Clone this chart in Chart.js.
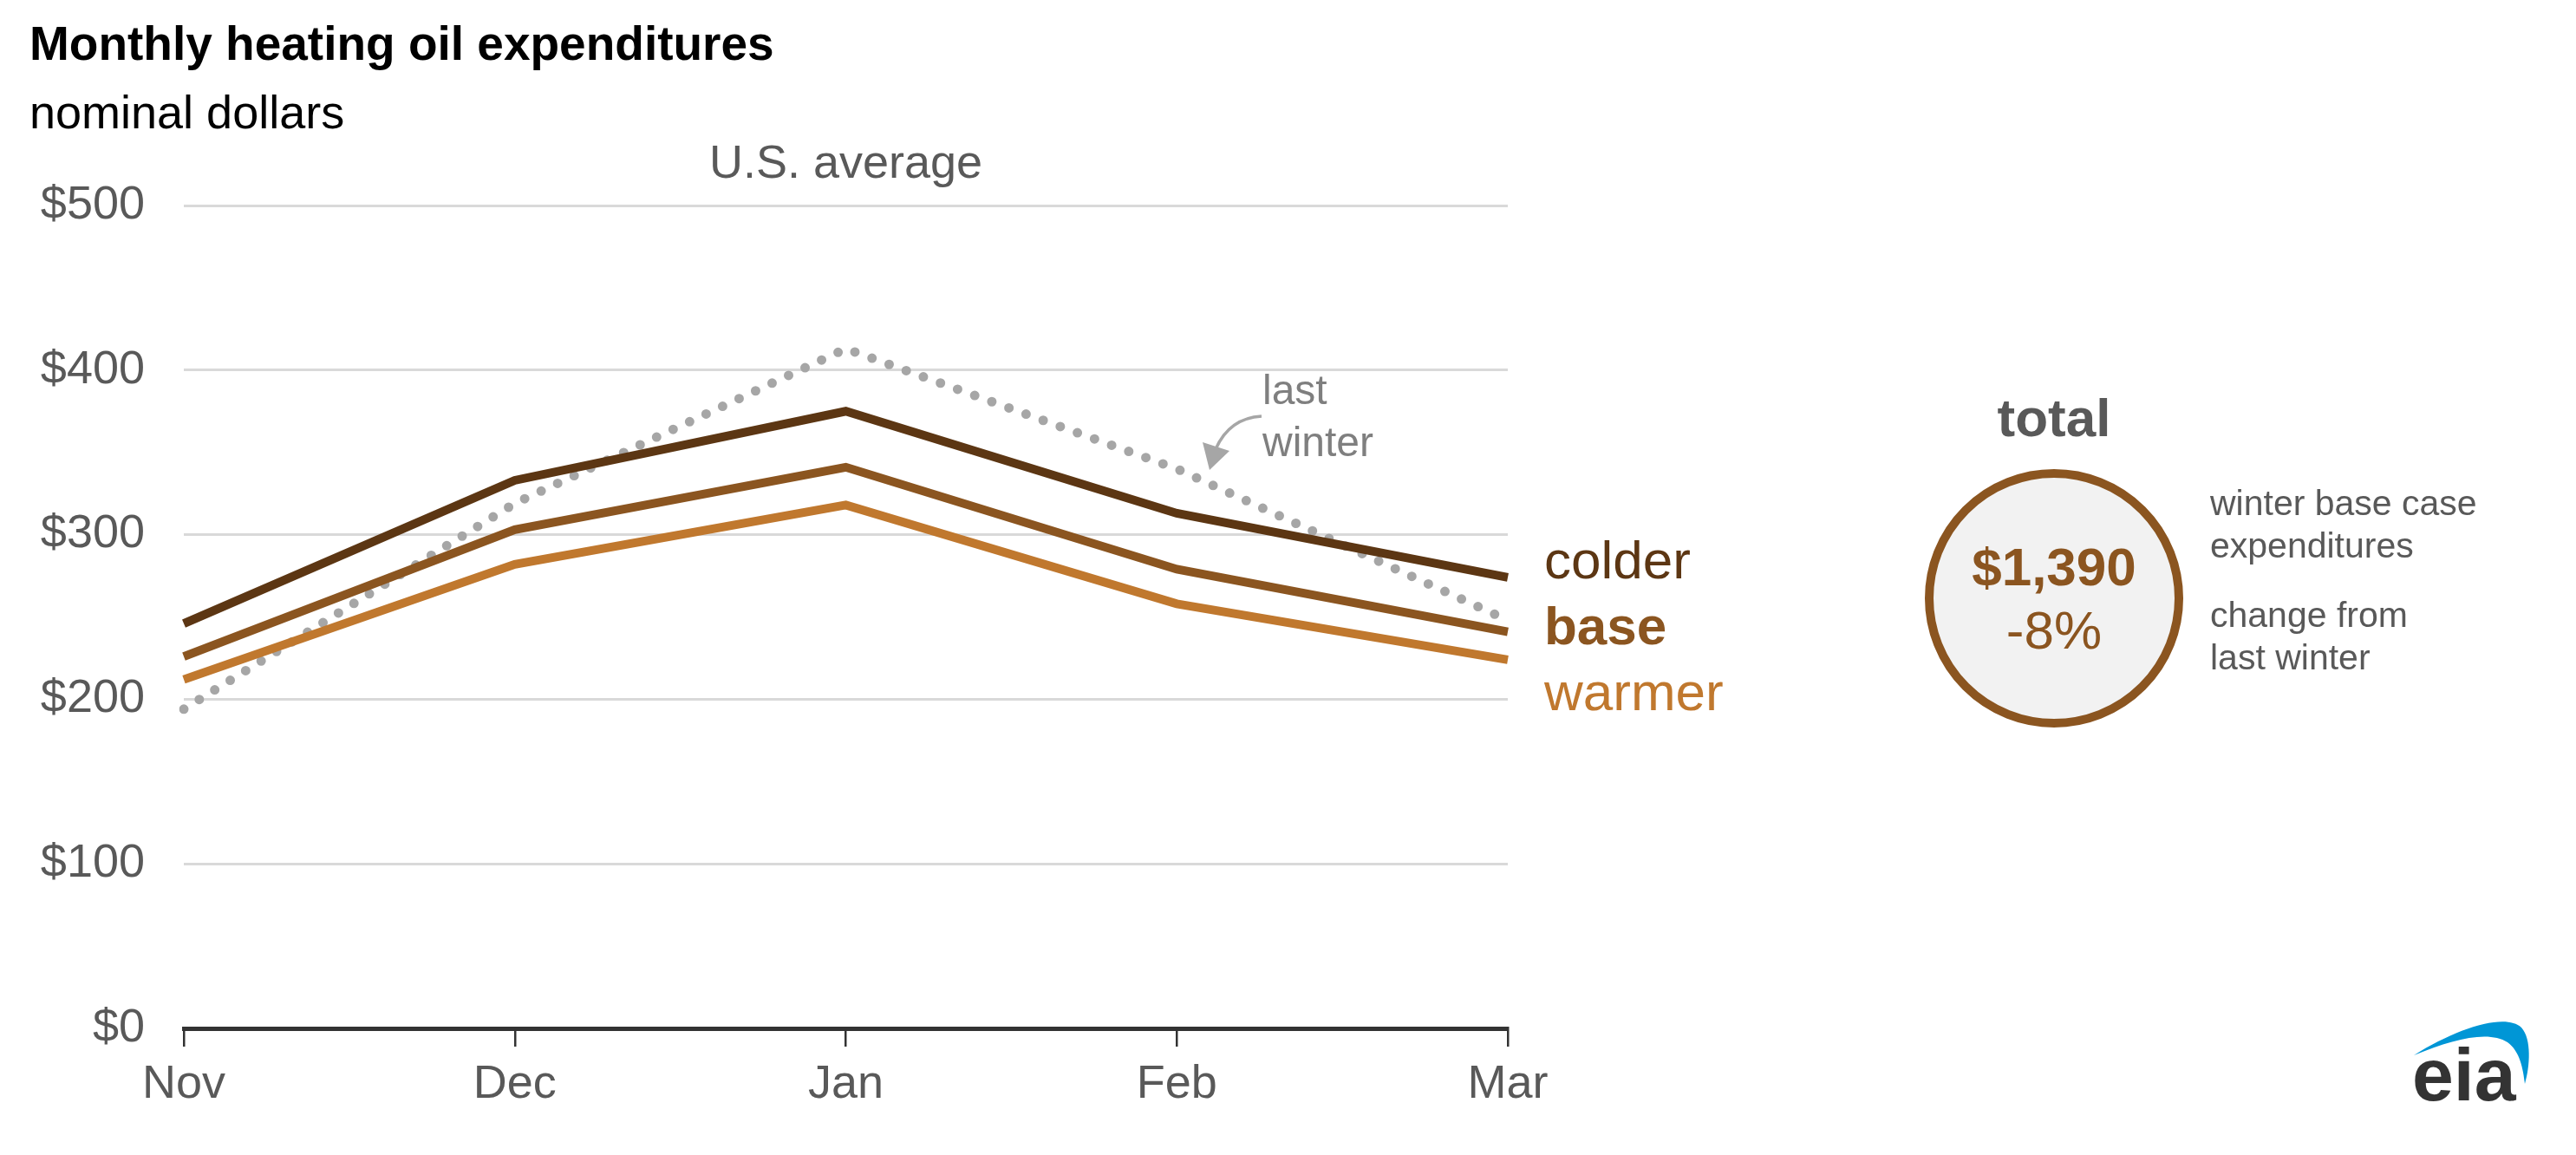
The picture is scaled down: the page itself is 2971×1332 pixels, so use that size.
<!DOCTYPE html>
<html>
<head>
<meta charset="utf-8">
<script src="https://cdn.jsdelivr.net/npm/chart.js@4.4.0/dist/chart.umd.min.js"></script>
<style>
  body { margin:0; background:#fff; width:2971px; height:1332px; overflow:hidden; position:relative; font-family:"Liberation Sans", Arial, sans-serif; }
  #chart { position:absolute; left:0; top:0; }
  .t { position:absolute; white-space:nowrap; line-height:1; }
  #circle { position:absolute; left:2220px; top:541px; width:298px; height:298px; box-sizing:border-box; border:10px solid #8b5520; border-radius:50%; background:#f2f2f2; }
</style>
</head>
<body>
<canvas id="chart" width="2971" height="1332"></canvas>

<div class="t" style="left:34px; top:23px; font-size:55px; font-weight:bold; color:#000;">Monthly heating oil expenditures</div>
<div class="t" style="left:34px; top:102px; font-size:54px; color:#000;">nominal dollars</div>

<div class="t" style="left:2169px; width:400px; text-align:center; top:451px; font-size:62px; font-weight:bold; color:#595959;">total</div>
<div id="circle"></div>
<div class="t" style="left:2169px; width:400px; text-align:center; top:623px; font-size:62px; font-weight:bold; color:#8b5520;">$1,390</div>
<div class="t" style="left:2169px; width:400px; text-align:center; top:696px; font-size:62px; color:#8b5520;">-8%</div>
<div class="t" style="left:2549px; top:560px; font-size:41px; color:#595959;">winter base case</div>
<div class="t" style="left:2549px; top:609px; font-size:41px; color:#595959;">expenditures</div>
<div class="t" style="left:2549px; top:689px; font-size:41px; color:#595959;">change from</div>
<div class="t" style="left:2549px; top:738px; font-size:41px; color:#595959;">last winter</div>

<svg style="position:absolute; left:2740px; top:1140px;" width="231" height="192">
  <path d="M44,77 C95,45 150,28 168,45 C180,58 178,90 172,110 C170,92 166,72 152,62 C130,48 90,58 44,77 Z" fill="#0096d6"/>
</svg>
<div class="t" style="left:2782px; top:1196px; font-size:86px; font-weight:bold; color:#333;">eia</div>

<script>
const months = ['Nov', 'Dec', 'Jan', 'Feb', 'Mar'];
const colder = [246, 333, 375, 313, 274];
const base = [226, 303, 341, 279, 241];
const warmer = [212, 282, 318, 258, 224];
const lastWinter = [194, 319, 413, 340, 248];
const seriesNames = ['colder', 'base', 'warmer'];
const seriesColors = ['#5c3613', '#8b5520', '#c0782e'];

const FONT = '"Liberation Sans", Arial, sans-serif';

const annotations = {
  id: 'annotations',
  afterDraw(chart) {
    const ctx = chart.ctx;
    const area = chart.chartArea;
    ctx.save();
    ctx.textBaseline = 'alphabetic';

    ctx.font = '54px ' + FONT;
    ctx.fillStyle = '#595959';
    ctx.textAlign = 'center';
    ctx.fillText('U.S. average', (area.left + area.right) / 2, 205);

    // series labels at right end
    ctx.textAlign = 'left';
    const baselines = [667, 743, 819];
    seriesNames.forEach((name, i) => {
      ctx.font = (name === 'base' ? 'bold ' : '') + '62px ' + FONT;
      ctx.fillStyle = seriesColors[i];
      ctx.fillText(name, area.right + 42, baselines[i]);
    });

    // last winter note
    ctx.font = '48px ' + FONT;
    ctx.fillStyle = '#7f7f7f';
    ctx.fillText('last', 1456, 466);
    ctx.fillText('winter', 1456, 526);

    // curved arrow
    ctx.strokeStyle = '#a6a6a6';
    ctx.fillStyle = '#a6a6a6';
    ctx.lineWidth = 3.5;
    ctx.beginPath();
    ctx.moveTo(1455, 480);
    ctx.quadraticCurveTo(1418, 482, 1402, 518);
    ctx.stroke();
    ctx.beginPath();
    ctx.moveTo(1387, 510);
    ctx.lineTo(1418, 520);
    ctx.lineTo(1395, 542);
    ctx.closePath();
    ctx.fill();
    ctx.restore();
  }
};

new Chart(document.getElementById('chart'), {
  type: 'line',
  data: {
    labels: months,
    datasets: [
      { label: 'colder', data: colder, borderColor: seriesColors[0], borderWidth: 10 },
      { label: 'base', data: base, borderColor: seriesColors[1], borderWidth: 10 },
      { label: 'warmer', data: warmer, borderColor: seriesColors[2], borderWidth: 10 },
      { label: 'last winter', data: lastWinter, borderColor: '#a6a6a6', borderWidth: 11,
        borderDash: [0, 21], borderCapStyle: 'round' }
    ]
  },
  options: {
    responsive: false,
    animation: false,
    devicePixelRatio: 1,
    elements: {
      line: { tension: 0 },
      point: { radius: 0 }
    },
    layout: { padding: { left: 0, top: 237, right: 1232, bottom: 0 } },
    plugins: { legend: { display: false }, tooltip: { enabled: false } },
    scales: {
      x: {
        offset: false,
        grid: { drawOnChartArea: false, drawTicks: true, tickLength: 21, color: '#333', lineWidth: 2.5 },
        border: { display: true, color: '#333', width: 5 },
        ticks: { color: '#595959', font: { family: FONT, size: 54 }, padding: 12, maxRotation: 0 },
        afterFit(scale) { scale.height = 146; }
      },
      y: {
        min: 0, max: 500,
        ticks: { stepSize: 100, color: '#595959', font: { family: FONT, size: 54 }, padding: 45,
          callback: v => '$' + v },
        grid: { drawTicks: false, lineWidth: 3,
          color: c => c.tick && c.tick.value === 0 ? 'rgba(0,0,0,0)' : '#d9d9d9' },
        border: { display: false },
        afterFit(scale) { scale.width = 212; }
      }
    }
  },
  plugins: [annotations]
});
</script>
</body>
</html>
